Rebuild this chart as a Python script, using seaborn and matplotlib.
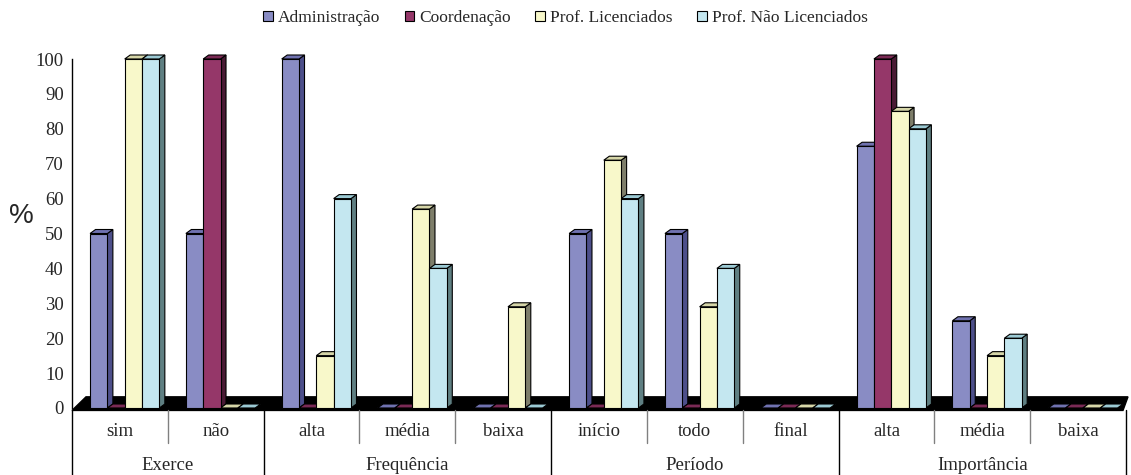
import numpy as np
import pandas as pd
import matplotlib
matplotlib.use("Agg")
import matplotlib.pyplot as plt
from matplotlib.patches import Polygon, Patch
import seaborn as sns

# ---------------- data ----------------
categories = ['sim', 'não', 'alta', 'média', 'baixa', 'início', 'todo', 'final', 'alta', 'média', 'baixa']
groups = ['Exerce', 'Frequência', 'Período', 'Importância']
group_sizes = [2, 3, 3, 3]
series = ['Administração', 'Coordenação', 'Prof. Licenciados', 'Prof. Não Licenciados']
administracao = [50, 50, 100, 0, 0, 50, 50, 0, 75, 25, 0]
coordenacao = [0, 100, 0, 0, 0, 0, 0, 0, 100, 0, 0]
prof_licenciados = [100, 0, 15, 57, 29, 71, 29, 0, 85, 15, 0]
prof_nao_licenciados = [100, 0, 60, 40, 0, 60, 40, 0, 80, 20, 0]
yticks = list(range(0, 101, 10))

front_colors = ['#898CC4', '#953769', '#F8F8CA', '#C4E7F0']
top_colors = ['#7072B0', '#7A2A55', '#D6D6A8', '#9CCAD4']
side_colors = ['#4D4F8A', '#4A1A34', '#7E7E6A', '#5F7F82']

values = [administracao, coordenacao, prof_licenciados, prof_nao_licenciados]
rows = []
for s, vals in zip(series, values):
    for i, v in enumerate(vals):
        rows.append({'pos': i, 'series': s, 'value': v})
df = pd.DataFrame(rows)

# ---------------- figure ----------------
sns.set_style('white')
plt.rcParams['font.family'] = ['Liberation Serif', 'DejaVu Serif']

W, H = 1131, 475
fig = plt.figure(figsize=(W / 100, H / 100), dpi=100)
ax_left, ax_bottom, ax_w, ax_h = 72 / W, (H - 408) / H, 1054 / W, 349 / H
ax = fig.add_axes([ax_left, ax_bottom, ax_w, ax_h])

n = len(categories)
sns.barplot(data=df, x='pos', y='value', hue='series', hue_order=series,
            palette=front_colors, width=0.723, dodge=True, saturation=1,
            edgecolor='black', linewidth=0.8, legend=False, ax=ax, zorder=4)

xl, xr = -0.55, n - 0.55
ax.set_xlim(xl, xr)
ax.set_ylim(0, 100)

px_x = 1054 / n          # pixels per x unit
px_y = 349 / 100         # pixels per y unit
dx = 5.5 / px_x
dy = 4.0 / px_y

# floor
floor = Polygon([(xl, -0.7), (xl + 14 / px_x, 3.2), (xr + 2 / px_x, 3.2), (xr - 3 / px_x, -0.7)],
                closed=True, facecolor='black', edgecolor='black', zorder=1, clip_on=False)
ax.add_patch(floor)

# 3D depth faces
for k, cont in enumerate(ax.containers):
    for p in cont.patches:
        p.set_clip_on(False)
        x, w, h = p.get_x(), p.get_width(), p.get_height()
        side = Polygon([(x + w, 0), (x + w + dx, dy), (x + w + dx, h + dy), (x + w, h)],
                       closed=True, facecolor=side_colors[k], edgecolor='black', lw=0.8,
                       zorder=2, clip_on=False)
        top = Polygon([(x, h), (x + dx, h + dy), (x + w + dx, h + dy), (x + w, h)],
                      closed=True, facecolor=top_colors[k], edgecolor='black', lw=0.8,
                      zorder=3, clip_on=False)
        ax.add_patch(side)
        ax.add_patch(top)

# axes styling
for sp in ['top', 'right', 'bottom']:
    ax.spines[sp].set_visible(False)
ax.spines['left'].set_color('black')
ax.spines['left'].set_linewidth(1.0)
ax.set_yticks(yticks)
ax.tick_params(axis='y', direction='out', length=5, width=1, color='black',
               labelsize=13.5, pad=1)
ax.set_xticks([])
ax.set_xlabel('')
ax.set_ylabel('')

# category axis (two levels)
tr = ax.get_xaxis_transform()
y_row1_top, y_row1_bot, y_bottom = -2 / 349, -35 / 349, -67 / 349
bounds = np.cumsum([0] + group_sizes)
for i in range(n + 1):
    xpos = xl + i
    if i in bounds:
        ax.plot([xpos, xpos], [y_row1_top, y_bottom], transform=tr, color='black',
                lw=1.0, clip_on=False, zorder=5)
    else:
        ax.plot([xpos, xpos], [y_row1_top, y_row1_bot], transform=tr, color='#808080',
                lw=1.0, clip_on=False, zorder=5)
for i, c in enumerate(categories):
    ax.text(xl + i + 0.5, -24 / 349, c, transform=tr, ha='center', va='center',
            fontsize=13.5, clip_on=False)
for g, (a, b) in zip(groups, zip(bounds[:-1], bounds[1:])):
    ax.text(xl + (a + b) / 2, -58 / 349, g, transform=tr, ha='center', va='center',
            fontsize=13.5, clip_on=False)

# "%" label
fig.text(21 / W, 1 - 216 / H, '%', ha='center', va='center', fontsize=20,
         family=['Liberation Sans', 'DejaVu Sans'])

# legend
handles = [Patch(facecolor=c, edgecolor='black', linewidth=0.8) for c in front_colors]
fig.legend(handles, series, loc='center', bbox_to_anchor=(0.5, 1 - 18 / H), ncol=4,
           frameon=False, fontsize=12.5, handlelength=0.55, handleheight=0.55,
           handletextpad=0.3, columnspacing=1.4)

fig.savefig('out.png', dpi=100)
